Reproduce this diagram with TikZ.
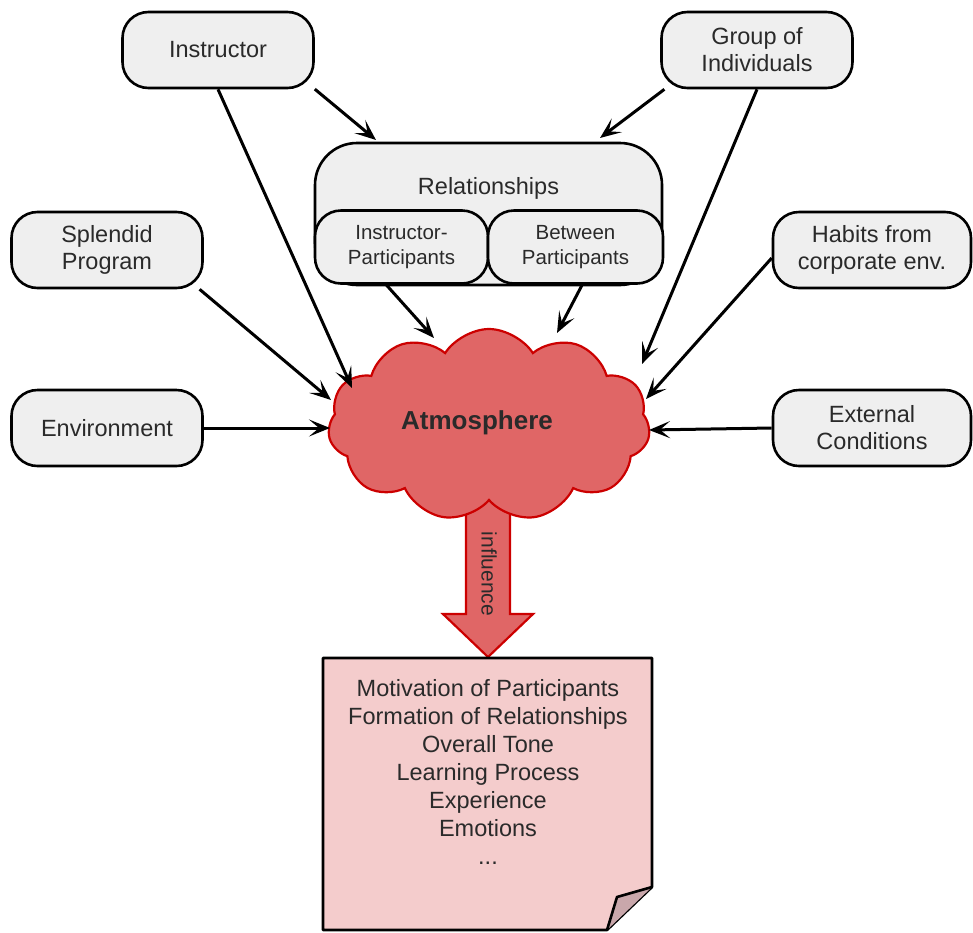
\documentclass[tikz,border=0pt]{standalone}
\usepackage{fontspec}
\setmainfont{Liberation Sans}
\usetikzlibrary{shapes.symbols,arrows.meta}
\definecolor{boxfill}{HTML}{EFEFEF}
\definecolor{cloudfill}{HTML}{E06666}
\definecolor{cloudline}{HTML}{CC0000}
\definecolor{notefill}{HTML}{F4CCCC}
\definecolor{foldfill}{HTML}{C9A7AB}
\definecolor{ink}{HTML}{2A2A2A}
\tikzset{
  box/.style={draw=black, line width=2.6pt, fill=boxfill, rounded corners=26pt,
    minimum width=191pt, minimum height=76pt, align=center, text=ink,
    font=\fontsize{23.5}{27}\selectfont},
  subbox/.style={box, minimum width=173pt, minimum height=73pt, font=\fontsize{20.5}{25}\selectfont},
  arr/.style={line width=3pt, -{Stealth[length=21pt,width=17pt,inset=10pt]}},
}
\begin{document}
\begin{tikzpicture}[x=1pt,y=-1pt]
\useasboundingbox (0,0) rectangle (973,932);

% input boxes
\node[box] (inst) at (218,50) {Instructor};
\node[box] (grp) at (757,50) {Group of\\Individuals};
\node[box] (spl) at (107,250) {Splendid\\Program};
\node[box] (env) at (107,428) {Environment};
\node[box, minimum width=198pt] (hab) at (872,250) {Habits from\\corporate env.};
\node[box, minimum width=198pt] (ext) at (872,428) {External\\Conditions};

% relationships container with its two parts
\node[box, rounded corners=42pt, minimum width=347pt, minimum height=142pt] (rel) at (488.5,214) {};
\node[text=ink, font=\fontsize{23.5}{27}\selectfont] (reltitle) at (488.5,188) {Relationships};
\node[subbox] (ip) at (401.5,247) {Instructor-\\Participants};
\node[subbox, minimum width=175pt] (bp) at (575.5,247) {Between\\Participants};

% influence arrow (under the cloud)
\path[draw=cloudline, line width=2.2pt, fill=cloudfill]
  (466,500) -- (510,500) -- (510,614) -- (533,614) -- (488,657) -- (443,614) -- (466,614) -- cycle;
\node[rotate=-90, text=ink, font=\fontsize{21}{25}\selectfont] (infl) at (489,574) {influence};

% atmosphere cloud
\node[cloud, cloud puffs=11, cloud puff arc=115, aspect=1.7, draw=cloudline, line width=2.2pt,
  fill=cloudfill, minimum width=322pt, minimum height=192pt] (atm) at (489,425) {};
\node[font=\bfseries\fontsize{26}{30}\selectfont, text=ink] (atmtext) at (477,423) {Atmosphere};

% arrow tips on the cloud and the relationships box
\coordinate (tRelL) at (376,140);
\coordinate (tRelR) at (600,138);
\coordinate (tInst) at (352,388);
\coordinate (tGrp) at (642,364);
\coordinate (tSpl) at (331,400);
\coordinate (tEnv) at (330,428);
\coordinate (tExt) at (649,430);
\coordinate (tHab) at (646,399);
\coordinate (tIP) at (434,338);
\coordinate (tBP) at (557,333);

\draw[arr] (inst.-22) -- (tRelL);
\draw[arr] (inst.south) -- (tInst);
\draw[arr] (grp.-157) -- (tRelR);
\draw[arr] (grp.south) -- (tGrp);
\draw[arr] (spl.-23) -- (tSpl);
\draw[arr] (env.east) -- (tEnv);
\draw[arr] (ext.west) -- (tExt);
\draw[arr] (hab.west |- 0,258) -- (tHab);
\draw[arr] (ip.-112) -- (tIP);
\draw[arr] (bp.-80) -- (tBP);

% note with folded corner
\path[draw=black, line width=2.6pt, fill=notefill, line join=round]
  (323,658) -- (652,658) -- (652,887) -- (607,930) -- (323,930) -- cycle;
\path[draw=black, line width=2.6pt, fill=foldfill, line join=round]
  (652,887) -- (617,897) -- (607,930);
\node[align=center, text=ink, font=\fontsize{23.5}{28}\selectfont] (note) at (488,772)
  {Motivation of Participants\\Formation of Relationships\\Overall Tone\\Learning Process\\Experience\\Emotions\\...};
\end{tikzpicture}
\end{document}
